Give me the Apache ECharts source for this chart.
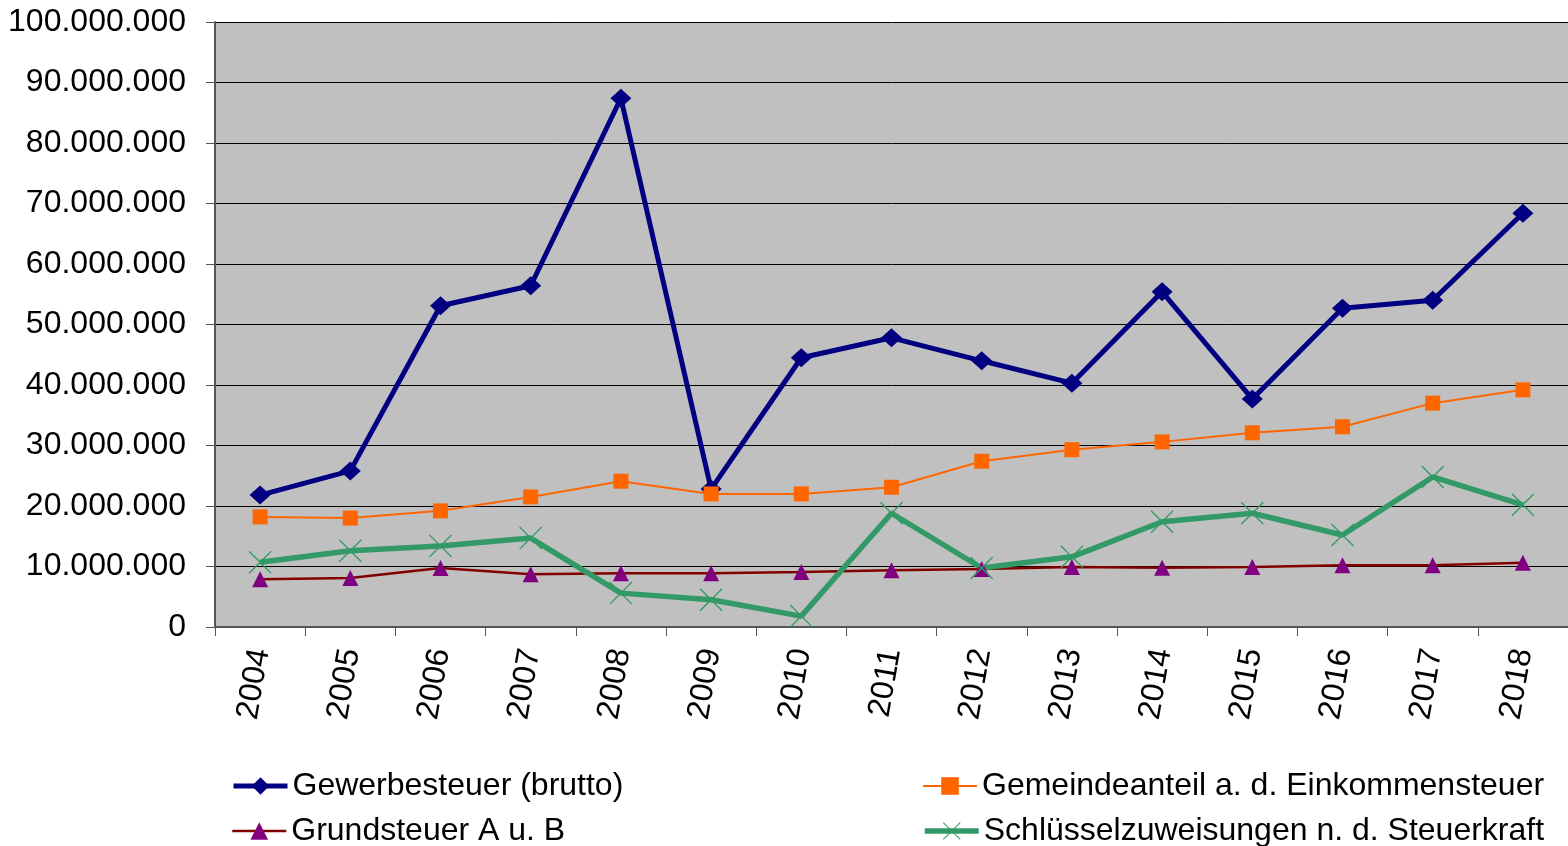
<!DOCTYPE html>
<html lang="de">
<head>
<meta charset="UTF-8">
<title>Steuereinnahmen 2004-2018</title>
<script src="https://cdn.jsdelivr.net/npm/echarts@6/dist/echarts.min.js"></script>
<style>
  html, body { margin: 0; padding: 0; background: #fff; }
  #chart { width: 1568px; height: 846px; }
</style>
</head>
<body>
<div id="chart"></div>
<script>
// Daten
const years = ['2004','2005','2006','2007','2008','2009','2010','2011','2012','2013','2014','2015','2016','2017','2018'];
const gewerbesteuer = [21.8, 25.8, 53.1, 56.4, 87.4, 22.8, 44.5, 47.8, 44.0, 40.3, 55.4, 37.7, 52.7, 54.0, 68.4].map(v => v * 1e6);
const gemeindeanteil = [18.2, 18.0, 19.2, 21.5, 24.1, 22.0, 22.0, 23.1, 27.4, 29.3, 30.6, 32.1, 33.1, 37.0, 39.2].map(v => v * 1e6);
const grundsteuer = [7.9, 8.1, 9.75, 8.7, 8.9, 8.9, 9.1, 9.4, 9.6, 9.9, 9.8, 9.9, 10.2, 10.2, 10.6].map(v => v * 1e6);
const schluessel = [10.7, 12.6, 13.4, 14.7, 5.6, 4.5, 1.8, 18.8, 9.75, 11.6, 17.4, 18.8, 15.2, 24.8, 20.2].map(v => v * 1e6);

const font = '"Liberation Sans", Arial, sans-serif';
const xSymbol = 'path://M0,4L4,0L50,46L96,0L100,4L54,50L100,96L96,100L50,54L4,100L0,96L46,50Z';

// Tausenderpunkte
const fmt = (v) => String(v).replace(/\B(?=(\d{3})+(?!\d))/g, '.');

const chart = echarts.init(document.getElementById('chart'));

// eine Legende pro Eintrag, damit die 2x2-Anordnung stimmt
function legendItem(name, left, top, lineWidth) {
  return {
    left, top, padding: 0, itemWidth: 54, itemHeight: 22, itemGap: 0,
    lineStyle: { width: lineWidth },
    textStyle: { fontFamily: font, fontSize: 32, color: '#000' },
    data: [name]
  };
}

chart.setOption({
  animation: false,
  backgroundColor: '#fff',
  grid: { left: 215, right: 0, top: 22, bottom: 219, show: true, backgroundColor: '#c0c0c0', borderWidth: 0 },
  legend: [
    legendItem('Gewerbesteuer (brutto)', 231, 770, 5),
    legendItem('Grundsteuer A u. B', 231, 815, 2.5),
    legendItem('Gemeindeanteil a. d. Einkommensteuer', 922, 770, 2),
    legendItem('Schlüsselzuweisungen n. d. Steuerkraft', 922, 815, 5.5)
  ],
  xAxis: {
    type: 'category',
    data: years,
    boundaryGap: true,
    axisLine: { lineStyle: { color: '#555', width: 2 } },
    axisTick: { show: true, length: 9, lineStyle: { color: '#555' } },
    axisLabel: { rotate: 80, margin: 22, fontFamily: font, fontSize: 32, color: '#000' }
  },
  yAxis: {
    type: 'value',
    min: 0,
    max: 100000000,
    interval: 10000000,
    axisLine: { show: true, lineStyle: { color: '#555', width: 2 } },
    axisTick: { show: true, length: 9, lineStyle: { color: '#555' } },
    splitLine: { lineStyle: { color: '#000', width: 1 } },
    axisLabel: { margin: 29, fontFamily: font, fontSize: 32, color: '#000', formatter: fmt }
  },
  series: [
    {
      name: 'Gewerbesteuer (brutto)', type: 'line', data: gewerbesteuer,
      symbol: 'diamond', symbolSize: [21, 19], showAllSymbol: true,
      lineStyle: { color: '#000080', width: 5 }, itemStyle: { color: '#000080' }
    },
    {
      name: 'Gemeindeanteil a. d. Einkommensteuer', type: 'line', data: gemeindeanteil,
      symbol: 'rect', symbolSize: 15, showAllSymbol: true,
      lineStyle: { color: '#ff6600', width: 2 }, itemStyle: { color: '#ff6600' }
    },
    {
      name: 'Grundsteuer A u. B', type: 'line', data: grundsteuer,
      symbol: 'triangle', symbolSize: 16, showAllSymbol: true,
      lineStyle: { color: '#800000', width: 2.5 }, itemStyle: { color: '#800080' }
    },
    {
      name: 'Schlüsselzuweisungen n. d. Steuerkraft', type: 'line', data: schluessel,
      symbol: xSymbol, symbolSize: 23, showAllSymbol: true,
      lineStyle: { color: '#339966', width: 5.5 }, itemStyle: { color: '#339966' }
    }
  ]
});
</script>
</body>
</html>
